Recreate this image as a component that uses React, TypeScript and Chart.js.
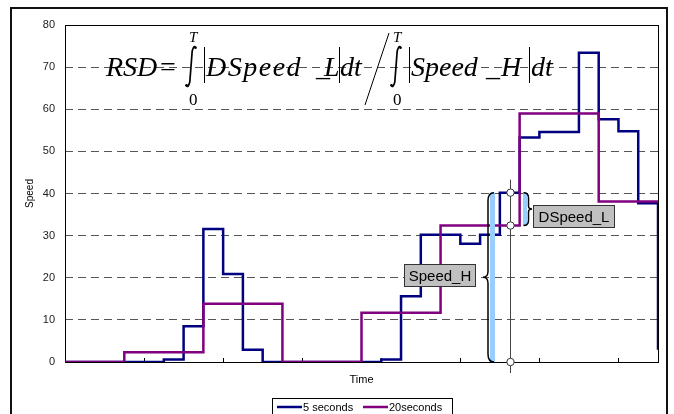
import React, { useEffect, useRef } from 'react';
import { Chart, registerables } from 'chart.js';

Chart.register(...registerables);

// ---- data ----
const time5s = [0, 5, 10, 15, 20, 25, 30, 35, 40, 45, 50, 55, 60, 65, 70, 75, 80, 85, 90, 95, 100, 105, 110, 115, 120, 125, 130, 135, 140, 145, 150];
const speed5s = [0, 0, 0, 0, 0, 0.6, 8.5, 31.6, 20.9, 2.9, 0, 0, 0, 0, 0, 0, 0.6, 15.6, 30.2, 30.2, 28.1, 30.2, 40.2, 53.3, 54.6, 54.6, 73.4, 57.6, 54.8, 37.7, 2.9];
const time20s = [0, 15, 35, 55, 75, 95, 115, 135, 150];
const speed20s = [0, 2.3, 13.8, 0, 11.7, 32.4, 59, 38.1, 38.1];
const seriesNames = ['5 seconds', '20seconds'];
const yTicks = [0, 10, 20, 30, 40, 50, 60, 70, 80];
const xTicks = [20, 40, 60, 80, 100, 120, 140];
const markerTime = 112.5;
const markerHigh = 40.2;
const markerLow = 32.4;
const labelSpeedH = 'Speed_H';
const labelDSpeedL = 'DSpeed_L';

const BLUE = '#000080';
const PURPLE = '#800080';
const SANS = '"Liberation Sans", Arial, sans-serif';
const serifI = (s: number) => `italic ${s}px "Liberation Serif", "Times New Roman", serif`;
const serif = (s: number) => `${s}px "Liberation Serif", "Times New Roman", serif`;

function drawIntegral(ctx: CanvasRenderingContext2D, x: number, top: number, bottom: number) {
  ctx.save();
  ctx.strokeStyle = '#000';
  ctx.fillStyle = '#000';
  ctx.lineCap = 'round';
  ctx.lineWidth = 1.7;
  ctx.beginPath();
  ctx.moveTo(x + 4.5, top + 2.5);
  ctx.quadraticCurveTo(x + 3, top - 0.5, x + 1.2, top + 6);
  ctx.lineTo(x - 1.2, bottom - 6);
  ctx.quadraticCurveTo(x - 3, bottom + 0.5, x - 4.5, bottom - 2.5);
  ctx.stroke();
  ctx.beginPath();
  ctx.arc(x + 4.5, top + 2.8, 1.3, 0, Math.PI * 2);
  ctx.fill();
  ctx.beginPath();
  ctx.arc(x - 4.5, bottom - 2.8, 1.3, 0, Math.PI * 2);
  ctx.fill();
  ctx.restore();
}

function vbar(ctx: CanvasRenderingContext2D, x: number, top: number, bottom: number) {
  ctx.save();
  ctx.strokeStyle = '#000';
  ctx.lineWidth = 1;
  ctx.beginPath();
  ctx.moveTo(x, top);
  ctx.lineTo(x, bottom);
  ctx.stroke();
  ctx.restore();
}

const overlay = {
  id: 'overlay',
  beforeDatasetsDraw(chart: any) {
    const { ctx, chartArea: a, scales } = chart;
    const x = scales.x;
    ctx.save();
    ctx.strokeStyle = '#000';
    ctx.lineWidth = 1;
    ctx.strokeRect(Math.round(a.left) + 0.5, Math.round(a.top) + 0.5, Math.round(a.right - a.left), Math.round(a.bottom - a.top));
    // x tick marks (inside)
    ctx.beginPath();
    xTicks.forEach((t) => {
      const px = Math.round(x.getPixelForValue(t)) + 0.5;
      ctx.moveTo(px, a.bottom);
      ctx.lineTo(px, a.bottom - 4);
    });
    ctx.stroke();

    // formula
    ctx.fillStyle = '#000';
    ctx.textAlign = 'left';
    ctx.textBaseline = 'alphabetic';
    const base = 76;
    ctx.font = serifI(28);
    ctx.fillText('RSD', 106, base);
    ctx.font = serif(28);
    ctx.fillText('=', 160, base);
    drawIntegral(ctx, 191, 45, 88);
    ctx.font = serifI(15);
    ctx.fillText('T', 189, 42);
    ctx.font = serif(17);
    ctx.fillText('0', 189, 105);
    vbar(ctx, 204.5, 47, 83);
    ctx.font = serifI(28);
    (ctx as any).letterSpacing = '1.5px';
    ctx.fillText('DSpeed', 206, base);
    (ctx as any).letterSpacing = '0px';
    ctx.fillText('_', 316, base);
    ctx.fillText('L', 324, base);
    vbar(ctx, 339.5, 47, 83);
    ctx.fillText('dt', 340, base);
    ctx.save();
    ctx.lineWidth = 1;
    ctx.strokeStyle = '#000';
    ctx.beginPath();
    ctx.moveTo(389, 33);
    ctx.lineTo(365, 105);
    ctx.stroke();
    ctx.restore();
    drawIntegral(ctx, 396, 45, 88);
    ctx.font = serifI(15);
    ctx.fillText('T', 393, 42);
    ctx.font = serif(17);
    ctx.fillText('0', 393, 105);
    vbar(ctx, 409.5, 47, 83);
    ctx.font = serifI(28);
    ctx.fillText('Speed', 411, base);
    ctx.fillText('_', 486, base);
    ctx.fillText('H', 501, base);
    vbar(ctx, 529.5, 47, 83);
    ctx.fillText('dt', 531, base);
    ctx.restore();
  },
  afterDatasetsDraw(chart: any) {
    const { ctx, chartArea: a, scales } = chart;
    const x = scales.x;
    const y = scales.y;
    const mx = Math.round(x.getPixelForValue(markerTime)) + 0.5;
    const yHi = y.getPixelForValue(markerHigh);
    const yLo = y.getPixelForValue(markerLow);
    const y0 = y.getPixelForValue(0);
    ctx.save();
    // Speed_H band + brace
    ctx.fillStyle = '#99ccff';
    ctx.fillRect(mx - 20.5, yHi, 5, y0 - yHi);
    ctx.fillRect(mx + 12.5, yHi, 4, yLo - yHi);
    ctx.strokeStyle = '#000';
    ctx.lineWidth = 1.5;
    const bx = mx - 22.5;
    const mid = (yHi + y0) / 2;
    ctx.beginPath();
    ctx.moveTo(bx + 6, yHi);
    ctx.quadraticCurveTo(bx, yHi, bx, yHi + 8);
    ctx.lineTo(bx, mid - 6);
    ctx.quadraticCurveTo(bx, mid, bx - 5, mid);
    ctx.quadraticCurveTo(bx, mid, bx, mid + 6);
    ctx.lineTo(bx, y0 - 8);
    ctx.quadraticCurveTo(bx, y0, bx + 6, y0);
    ctx.stroke();
    // DSpeed_L brace
    const cx = mx + 18;
    const mid2 = (yHi + yLo) / 2;
    ctx.beginPath();
    ctx.moveTo(cx - 5, yHi);
    ctx.quadraticCurveTo(cx, yHi, cx, yHi + 5);
    ctx.lineTo(cx, mid2 - 3);
    ctx.quadraticCurveTo(cx, mid2, cx + 3.5, mid2);
    ctx.quadraticCurveTo(cx, mid2, cx, mid2 + 3);
    ctx.lineTo(cx, yLo - 5);
    ctx.quadraticCurveTo(cx, yLo, cx - 5, yLo);
    ctx.stroke();
    // vertical marker line
    ctx.strokeStyle = '#444';
    ctx.lineWidth = 1;
    ctx.beginPath();
    ctx.moveTo(mx, yHi - 13);
    ctx.lineTo(mx, a.bottom + 11);
    ctx.stroke();
    // circles
    [yHi, yLo, y0].forEach((py) => {
      ctx.beginPath();
      ctx.arc(mx, py, 3.7, 0, Math.PI * 2);
      ctx.fillStyle = '#fff';
      ctx.fill();
      ctx.strokeStyle = '#333';
      ctx.stroke();
    });
    // label boxes
    const box = (text: string, left: number, top: number, w: number, h: number) => {
      ctx.fillStyle = '#c0c0c0';
      ctx.fillRect(left, top, w, h);
      ctx.strokeStyle = '#333';
      ctx.lineWidth = 1;
      ctx.strokeRect(left + 0.5, top + 0.5, w - 1, h - 1);
      ctx.fillStyle = '#000';
      ctx.font = `15px ${SANS}`;
      ctx.textAlign = 'center';
      ctx.textBaseline = 'middle';
      ctx.fillText(text, left + w / 2, top + h / 2 + 1);
    };
    box(labelSpeedH, 404, 264, 72, 23);
    box(labelDSpeedL, 533, 205, 82, 23);
    ctx.restore();
  },
  afterDraw(chart: any) {
    const { ctx } = chart;
    ctx.save();
    // outer frame
    ctx.strokeStyle = '#111';
    ctx.lineWidth = 2;
    ctx.strokeRect(11, 8, 656, 430);
    // legend
    ctx.fillStyle = '#fff';
    ctx.fillRect(272, 398, 180, 30);
    ctx.strokeStyle = '#000';
    ctx.lineWidth = 1;
    ctx.strokeRect(272.5, 398.5, 180, 30);
    ctx.lineWidth = 2.5;
    ctx.strokeStyle = BLUE;
    ctx.beginPath();
    ctx.moveTo(277, 407);
    ctx.lineTo(302, 407);
    ctx.stroke();
    ctx.strokeStyle = PURPLE;
    ctx.beginPath();
    ctx.moveTo(363, 407);
    ctx.lineTo(388, 407);
    ctx.stroke();
    ctx.fillStyle = '#000';
    ctx.font = `11px ${SANS}`;
    ctx.textAlign = 'left';
    ctx.textBaseline = 'middle';
    ctx.fillText(seriesNames[0], 303, 408);
    ctx.fillText(seriesNames[1], 389, 408);
    ctx.restore();
  },
};

export default function App() {
  const ref = useRef<HTMLCanvasElement>(null);
  useEffect(() => {
    if (!ref.current) return;
    Chart.defaults.font.family = SANS;
    const chart = new Chart(ref.current, {
      type: 'line',
      data: {
        datasets: [
          {
            label: seriesNames[0],
            data: time5s.map((t, i) => ({ x: t, y: speed5s[i] })),
            borderColor: BLUE,
            backgroundColor: BLUE,
            borderWidth: 2.5,
            stepped: 'before',
            pointRadius: 0,
            fill: false,
            order: 2,
          },
          {
            label: seriesNames[1],
            data: time20s.map((t, i) => ({ x: t, y: speed20s[i] })),
            borderColor: PURPLE,
            backgroundColor: PURPLE,
            borderWidth: 2.5,
            stepped: 'before',
            pointRadius: 0,
            fill: false,
            order: 1,
          },
        ],
      },
      options: {
        animation: false,
        responsive: true,
        maintainAspectRatio: false,
        layout: { padding: { left: 12, right: 16, top: 25, bottom: 22 } },
        plugins: { legend: { display: false }, tooltip: { enabled: false } },
        scales: {
          x: {
            type: 'linear',
            min: 0,
            max: 150,
            ticks: { display: false },
            grid: { display: false },
            border: { display: false },
            title: { display: true, text: 'Time', color: '#000', font: { size: 11 }, padding: { top: 0, bottom: 5 } },
            afterFit: (s: any) => { s.height = 30; },
          },
          y: {
            min: 0,
            max: 80,
            afterBuildTicks: (s: any) => { s.ticks = yTicks.map((v) => ({ value: v })); },
            ticks: { color: '#222', font: { size: 11 }, padding: 10 },
            grid: {
              drawTicks: false,
              lineWidth: 1,
              color: (c: any) => (c.tick && (c.tick.value === 0 || c.tick.value === 80) ? 'rgba(0,0,0,0)' : '#555'),
            },
            border: { display: false, dash: [8, 5] },
            title: { display: true, text: 'Speed', color: '#000', font: { size: 10 }, padding: { top: 12, bottom: 0 } },
            afterFit: (s: any) => { s.width = 53; },
          },
        },
      } as any,
      plugins: [overlay],
    });
    return () => chart.destroy();
  }, []);
  return (
    <div style={{ position: 'fixed', left: 0, top: 0, width: 674, height: 414, background: '#fff' }}>
      <canvas ref={ref} />
    </div>
  );
}
